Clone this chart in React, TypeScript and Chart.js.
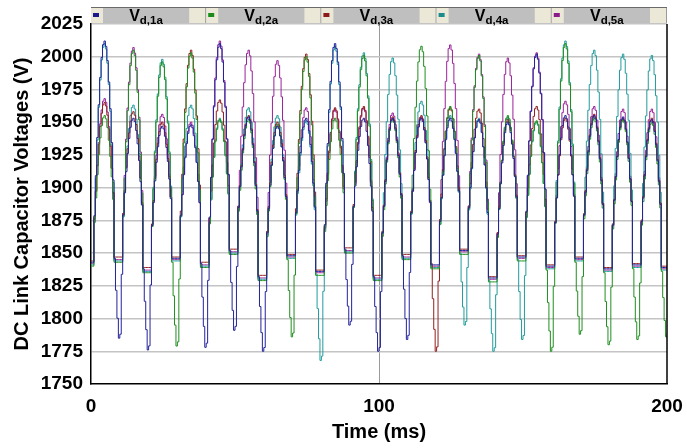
import React, { useEffect, useRef } from "react";
import { Chart, registerables } from "chart.js";

Chart.register(...registerables);

// ---- data ----
const SERIES_NAMES = ["d,1a", "d,2a", "d,3a", "d,4a", "d,5a"];
const SERIES_COLORS = ["#22229c", "#1f8f1f", "#921f1f", "#229c9c", "#9a229a"];
const LEGEND_COLORS = ["#1a1a8c", "#1a8c1a", "#8c1a1a", "#1a8c8c", "#8c1a8c"];

const X_TICKS = [0, 100, 200];
const Y_MIN = 1750;
const Y_MAX = 2025;
const Y_STEP = 25;

const CYCLE_MS = 10;
const SAMPLE_MS = 0.5;

// peak voltage of each 10 ms cycle, per capacitor
const PEAK_1A = [2012, 1953, 1947, 1948, 2010, 1954, 1947, 1953, 2010, 1953, 1953, 1953, 1953, 1952, 1950, 2002, 1955, 1955, 1954, 1952];
const PEAK_2A = [1955, 2005, 1996, 2003, 1952, 1952, 1948, 2000, 1953, 2001, 1952, 2008, 1962, 2001, 1955, 1951, 2010, 1953, 1952, 1950];
const PEAK_3A = [1965, 1958, 1950, 2005, 1967, 1955, 1950, 2002, 1961, 1962, 1954, 1955, 1961, 1960, 1952, 1962, 1953, 1956, 1953, 1953];
const PEAK_4A = [2010, 1963, 1998, 1963, 1953, 1961, 1955, 1951, 2008, 2003, 1999, 1966, 1955, 1953, 1954, 1950, 2012, 2005, 2002, 2001];
const PEAK_5A = [1968, 2007, 1956, 1950, 2012, 2005, 1997, 1961, 1960, 1961, 1957, 1954, 2009, 2002, 1999, 2003, 1966, 1962, 1960, 1960];
const PEAKS = [PEAK_1A, PEAK_2A, PEAK_3A, PEAK_4A, PEAK_5A];

// flat trough level after each cycle, and the voltage at the start
const TROUGH = [1845, 1837, 1845, 1841, 1851, 1831, 1847, 1835, 1852, 1831, 1847, 1840, 1851, 1830, 1846, 1839, 1845, 1837, 1840, 1838];
const START_TROUGH = 1842;
// small per-capacitor spread of the trough level
const TROUGH_SPREAD = [1, -2, 2, -1, 0];
// which capacitor dips in each trough, and how deep
const DIP_SERIES = [0, 0, 1, 0, 0, 0, 1, 3, 0, 0, 0, 2, 3, 3, 3, 1, 1, 1, 1, 1];
const DIP_VALUE = [1785, 1776, 1779, 1778, 1791, 1775, 1786, 1768, 1795, 1775, 1784, 1775, 1795, 1775, 1784, 1775, 1788, 1780, 1784, 1786];

// shape of the hump (0 = base, 1 = peak) at phases 1.0 .. 7.5 ms of a cycle
const HUMP_SHAPE = [0.04, 0.26, 0.47, 0.65, 0.8, 0.91, 0.98, 1.0, 0.97, 0.89, 0.77, 0.62, 0.43, 0.22];
// dip depth (0 = trough, 1 = full dip) at phases 8.0 .. 10.5 ms
const DIP_SHAPE = [0, 0.4, 0.75, 1.0, 0.95, 0.2];
const HUMP_BASE_ABOVE_TROUGH = 30;

function buildSeries(s: number) {
  const pts: { x: number; y: number }[] = [];
  const off = TROUGH_SPREAD[s];
  const n = CYCLE_MS / SAMPLE_MS;
  for (let k = 0; k <= PEAKS[s].length; k++) {
    const prev = k === 0 ? START_TROUGH : TROUGH[k - 1];
    const next = TROUGH[k];
    for (let j = 0; j < n; j++) {
      const phase = j * SAMPLE_MS;
      const t = k * CYCLE_MS + phase;
      if (t > 200) break;
      let v: number;
      if (phase < 1.0) {
        v = prev + off;
        if (k > 0 && DIP_SERIES[k - 1] === s) {
          v = v - (v - DIP_VALUE[k - 1]) * DIP_SHAPE[4 + j];
        }
      } else if (phase <= 7.5) {
        const h = HUMP_SHAPE[j - 2];
        const base = (phase <= 4.5 ? prev : next) + HUMP_BASE_ABOVE_TROUGH + off;
        v = base + (PEAKS[s][k] - base) * h;
      } else {
        v = next + off;
        if (DIP_SERIES[k] === s) {
          v = v - (v - DIP_VALUE[k]) * DIP_SHAPE[j - 16];
        }
      }
      pts.push({ x: t, y: v });
    }
  }
  return pts;
}

const FONT = '"Liberation Sans", Arial, Helvetica, sans-serif';

const legendBar = {
  id: "legendBar",
  afterDraw(chart: any) {
    const { ctx, chartArea } = chart;
    const left = chartArea.left;
    const right = chartArea.right;
    const top = 7;
    const bottom = chartArea.top - 1;
    ctx.save();
    ctx.fillStyle = "#bfbfbf";
    ctx.fillRect(left, top, right - left, bottom - top);
    ctx.strokeStyle = "#6a6a6a";
    ctx.lineWidth = 1;
    ctx.beginPath();
    ctx.moveTo(left, top + 0.5);
    ctx.lineTo(right, top + 0.5);
    ctx.stroke();
    const w = (right - left) / SERIES_NAMES.length;
    for (let i = 0; i < SERIES_NAMES.length; i++) {
      const sx = left + i * w;
      // square cell
      ctx.fillStyle = "#ebe8d8";
      ctx.fillRect(sx, top + 1, 12, bottom - top - 1);
      ctx.fillStyle = LEGEND_COLORS[i];
      ctx.fillRect(sx + 2, 13, 6, 4);
      // cream spacer cell at end of entry
      ctx.fillStyle = "#ebe8d8";
      ctx.fillRect(sx + w - 17, top + 1, 17, bottom - top - 1);
      ctx.strokeStyle = "#9a9a9a";
      ctx.beginPath();
      ctx.moveTo(sx + w - 0.5, top + 1);
      ctx.lineTo(sx + w - 0.5, bottom);
      ctx.stroke();
      // label
      ctx.fillStyle = "#000";
      ctx.textBaseline = "alphabetic";
      ctx.textAlign = "left";
      ctx.font = `bold 16px ${FONT}`;
      const vW = ctx.measureText("V").width;
      ctx.font = `bold 11.5px ${FONT}`;
      const subW = ctx.measureText(SERIES_NAMES[i]).width;
      const cx = sx + 55;
      const x0 = cx - (vW + subW) / 2;
      ctx.font = `bold 16px ${FONT}`;
      ctx.fillText("V", x0, 20.5);
      ctx.font = `bold 11.5px ${FONT}`;
      ctx.fillText(SERIES_NAMES[i], x0 + vW, 23.5);
    }
    // right border of plot
    ctx.strokeStyle = "#000";
    ctx.lineWidth = 1.5;
    ctx.beginPath();
    ctx.moveTo(right, chartArea.top);
    ctx.lineTo(right, chartArea.bottom);
    ctx.stroke();
    ctx.restore();
  },
};

export default function App() {
  const ref = useRef<HTMLCanvasElement>(null);
  useEffect(() => {
    const datasets = SERIES_NAMES.map((name, i) => ({
      label: "V" + name,
      data: buildSeries(i),
      borderColor: SERIES_COLORS[i],
      backgroundColor: SERIES_COLORS[i],
      borderWidth: 1,
      pointRadius: 0,
      stepped: true as const,
      fill: false,
    }));
    const chart = new Chart(ref.current!, {
      type: "line",
      data: { datasets },
      plugins: [legendBar],
      options: {
        animation: false,
        responsive: false,
        parsing: false,
        normalized: true,
        layout: { padding: { left: 0, top: 24, right: 20, bottom: 0 } },
        plugins: { legend: { display: false }, tooltip: { enabled: false } },
        scales: {
          x: {
            type: "linear",
            min: 0,
            max: 200,
            afterBuildTicks: (scale: any) => {
              scale.ticks = X_TICKS.map((v) => ({ value: v }));
            },
            afterFit: (scale: any) => {
              scale.height = 64;
              scale.paddingLeft = 0;
              scale.paddingRight = 0;
            },
            ticks: {
              padding: 11,
              autoSkip: false,
              maxRotation: 0,
              color: "#000",
              font: { family: FONT, size: 19, weight: "bold" },
              callback: (v: any) => String(v),
            },
            grid: {
              drawTicks: false,
              color: (c: any) => (c.tick && c.tick.value === 100 ? "#9a9a9a" : "rgba(0,0,0,0)"),
              lineWidth: 1,
            },
            border: { display: true, color: "#000", width: 1.5 },
            title: {
              display: true,
              text: "Time (ms)",
              color: "#000",
              font: { family: FONT, size: 20, weight: "bold", lineHeight: 1.2 },
              padding: { top: 0, bottom: 4 },
            },
          },
          y: {
            type: "linear",
            min: Y_MIN,
            max: Y_MAX,
            afterFit: (scale: any) => {
              scale.width = 91;
              scale.paddingTop = 0;
              scale.paddingBottom = 0;
            },
            ticks: {
              stepSize: Y_STEP,
              padding: 8,
              autoSkip: false,
              color: "#000",
              font: { family: FONT, size: 19, weight: "bold" },
              callback: (v: any) => String(v),
            },
            grid: {
              drawTicks: false,
              color: (c: any) => (c.tick && c.tick.value === Y_MIN ? "rgba(0,0,0,0)" : "#c4c4c4"),
              lineWidth: 1.5,
            },
            border: { display: true, color: "#000", width: 1.5 },
            title: {
              display: true,
              text: "DC Link Capacitor Voltages (V)",
              color: "#000",
              font: { family: FONT, size: 20, weight: "bold", lineHeight: 1.2 },
              padding: { top: 10, bottom: 0 },
            },
          },
        },
      },
    });
    return () => chart.destroy();
  }, []);
  return (
    <div style={{ position: "absolute", left: 0, top: 0, width: 687, height: 448, background: "#fff" }}>
      <canvas ref={ref} width={687} height={448} style={{ display: "block" }} />
    </div>
  );
}
